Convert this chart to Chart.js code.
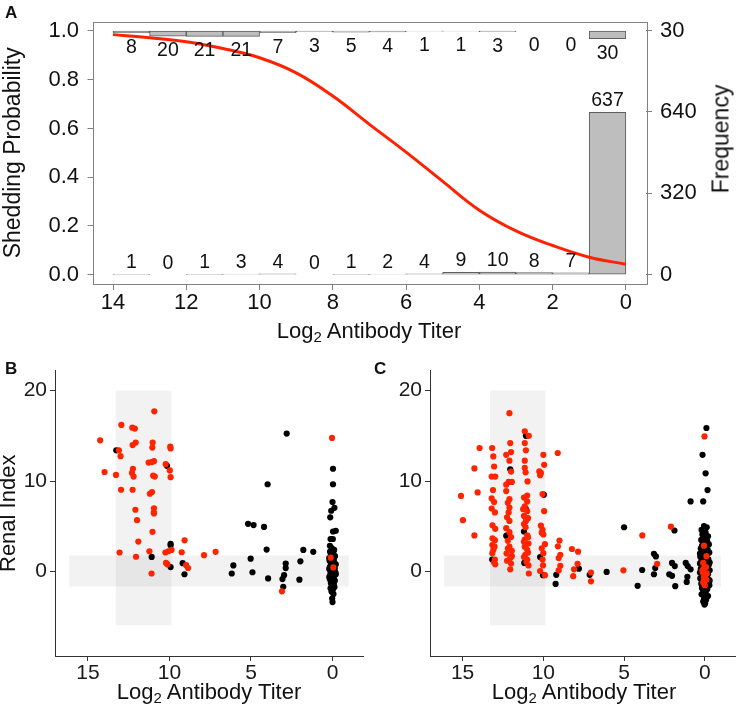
<!DOCTYPE html>
<html><head><meta charset="utf-8">
<script src="https://cdn.jsdelivr.net/npm/chart.js@4.4.1/dist/chart.umd.min.js"></script>
<style>
html,body{margin:0;padding:0;background:#fff;}
body{width:739px;height:706px;position:relative;overflow:hidden;font-family:"Liberation Sans",Arial,sans-serif;color:#111;}
canvas{position:absolute;}
.lbl{position:absolute;font-weight:bold;font-size:17px;line-height:17px;}
.xt{position:absolute;font-size:22px;line-height:22px;white-space:nowrap;transform:translateX(-50%);}
.xt sub{font-size:15px;line-height:0;vertical-align:-4px;}
.yt{position:absolute;font-size:23px;line-height:23px;white-space:nowrap;transform:translate(-50%,-50%) rotate(-90deg);}
</style></head>
<body>
<canvas id="cA" width="739" height="345" style="left:0;top:0"></canvas>
<canvas id="cB" width="370" height="351" style="left:0;top:355px"></canvas>
<canvas id="cC" width="369" height="351" style="left:370px;top:355px"></canvas>
<div class="lbl" style="left:5px;top:4px">A</div>
<div class="lbl" style="left:5px;top:360px">B</div>
<div class="lbl" style="left:374px;top:360px">C</div>
<div class="xt" style="left:369px;top:320px">Log<sub>2</sub> Antibody Titer</div>
<div class="xt" style="left:209px;top:681px">Log<sub>2</sub> Antibody Titer</div>
<div class="xt" style="left:584px;top:681px">Log<sub>2</sub> Antibody Titer</div>
<div class="yt" style="left:721px;top:139px">Frequency</div>
<script>
// ---------- Panel A data ----------
const binCenters   = [13.5,12.5,11.5,10.5,9.5,8.5,7.5,6.5,5.5,4.5,3.5,2.5,1.5,0.5];
const bottomCounts = [1,0,1,3,4,0,1,2,4,9,10,8,7,637];   // non-shedding (bottom histogram)
const topCounts    = [8,20,21,21,7,3,5,4,1,1,3,0,0,30];   // shedding (top histogram)
const curveX = [14,13,12,11,10,9,8,7,6,5,4,3,2,1,0];
const curveP = [0.985,0.972,0.956,0.928,0.89,0.828,0.733,0.617,0.503,0.383,0.265,0.18,0.12,0.072,0.043];
const xTicksA = [14,12,10,8,6,4,2,0];
const probTicks = [0,0.2,0.4,0.6,0.8,1.0];
const topBase = 956.4;                 // frequency value at probability 1.0
const freqTickValues = [0,320,640,topBase];
const freqTickLabels = ['0','320','640','30'];

// ---------- Panels B / C data ----------
const xTicksBC = [15,10,5,0];
const yTicksBC = [0,10,20];
const titerBandX = [13.3,9.87];   const titerBandY = [-5.93,20];
const renalBandX = [16.15,-1.0];  const renalBandY = [-1.64,1.79];

const bRed = [[10.93,17.7],[12.95,16.2],[12.28,15.9],[12.12,15.8],[14.25,14.5],[12.26,13.97],[12.07,14.25],[11.03,14.25],[11.05,13.7],[9.95,13.8],[9.93,13.6],[13.1,13.4],[13.0,12.75],[11.28,12.04],[10.95,12.2],[11.09,12.1],[10.23,11.86],[9.98,11.18],[13.98,11.0],[13.28,10.68],[12.24,11.36],[12.3,10.9],[12.2,10.5],[11.0,10.6],[10.9,10.5],[9.93,10.43],[12.97,9.04],[12.26,9.04],[11.2,8.6],[11.07,8.79],[12.09,6.83],[10.95,7.0],[10.96,6.54],[10.95,6.43],[11.99,5.68],[11.04,4.39],[11.91,3.32],[9.07,3.46],[13.06,2.11],[12.05,1.64],[11.23,2.25],[10.25,2.11],[10.07,2.25],[9.87,2.39],[9.25,2.14],[7.88,1.82],[7.17,2.18],[10.21,0.96],[10.12,0.79],[8.98,0.71],[8.86,0.4],[11.1,-0.21],[3.1,-2.18],[0.03,14.76],[0.11,1.54],[-0.05,0.46]];
const bBlack = [[13.26,13.4],[10.15,11.68],[9.93,3.07],[9.93,2.9],[11.09,1.62],[9.93,0.5],[9.19,0.93],[9.08,-0.29],
 [2.81,15.25],[3.98,9.65],[5.18,5.28],[4.84,5.14],[4.2,4.93],[4.04,2.43],[1.79,2.39],[1.18,2.18],[5.02,1.43],[6.08,0.68],[6.18,-0.21],[4.91,-0.07],[3.95,-0.75],[2.87,0.89],[2.87,0.39],[2.97,-0.39],[3.07,-0.82],[3.02,-1.68],[1.97,1.14],[2.03,-0.89],
 [-0.03,11.36],[-0.03,9.65],[0.0,7.68],[0.08,6.72],[-0.12,7.04],[0.14,6.0],[-0.03,4.43],[-0.2,4.5],[0.12,3.6],[-0.02,3.6],[0.16,2.85],
 [0.05,2.6],[-0.1,2.4],[0.15,2.2],[-0.05,2.0],[0.1,1.85],[-0.15,1.7],[0.02,1.5],[-0.08,1.3],[0.18,1.2],[0.06,1.0],[-0.12,0.9],[0.1,0.75],[-0.02,0.6],[0.16,0.5],[-0.14,0.35],[0.04,0.2],[-0.06,0.1],[0.12,0.0],[-0.18,-0.1],[0.0,-0.2],[0.14,-0.35],[-0.1,-0.45],[0.08,-0.6],[-0.04,-0.75],[0.16,-0.85],[-0.14,-1.0],[0.02,-1.1],[0.1,-1.25],[-0.08,-1.4],[0.05,-1.55],[-0.12,-1.7],[0.12,-1.85],[-0.02,-2.0],[0.06,-2.2],[-0.06,-2.47],[0.02,-2.97],[0.0,-3.36],[0.2,0.3],[-0.2,0.8],[0.2,-0.6],[-0.2,-0.3],[0.2,1.5]];

const cRed = [[15.1,8.36],[14.98,5.68],[14.27,4.0],[14.27,11.4],[14.07,8.75],[13.95,13.65],
 [13.17,13.65],[13.1,12.72],[13.05,11.61],[13.2,10.5],[12.98,10.5],[13.12,9.0],[13.2,8.08],[13.05,7.68],[13.2,6.97],[13.0,6.54],[13.15,5.11],[12.98,4.72],[13.15,3.68],[13.0,3.47],[13.16,2.93],[13.02,2.75],[13.1,2.4],[13.16,2.04],[13.0,1.33],[12.98,0.8],[13.05,1.0],
 [12.1,17.5],[12.05,14.2],[12.3,12.9],[12.0,13.2],[12.1,12.25],[12.0,11.05],[12.15,9.9],[11.95,9.9],[12.3,9.6],[12.3,8.9],[12.1,8.0],[12.2,7.6],[12.1,7.07],[12.15,6.54],[12.25,6.0],[12.1,5.6],[12.3,4.8],[12.1,4.35],[12.0,3.82],[12.2,3.4],[12.1,2.75],[11.95,2.3],[12.28,2.0],[12.05,1.5],[12.0,0.89],[12.05,0.25],[12.25,1.2],[11.95,1.7],[12.2,2.55],
 [11.15,15.5],[10.9,15.0],[11.15,14.2],[11.08,13.4],[11.15,12.25],[11.15,11.46],[11.1,10.96],[10.98,9.96],[11.2,8.18],[11.0,7.75],[11.15,7.2],[11.0,6.68],[11.2,6.15],[11.08,5.6],[11.2,5.25],[11.0,4.0],[11.15,3.54],[10.92,3.1],[11.15,2.75],[11.0,2.4],[11.12,1.86],[11.0,1.33],[10.92,0.68],[10.9,-0.21],[11.1,4.9],[10.95,3.8],[11.2,3.3],[10.95,2.1],[11.2,1.6],[11.05,1.05],[11.25,6.9],[11.0,8.4],[10.95,5.9],
 [10.0,12.9],[9.95,11.79],[10.25,11.07],[10.2,10.64],[10.05,8.57],[9.95,6.68],[10.15,5.07],[10.05,4.61],[10.0,4.11],[9.9,3.03],[10.1,2.57],[10.0,2.04],[10.05,1.33],[10.02,0.68],[10.2,0.07],[9.9,-0.39],[10.15,10.9],[10.1,4.3],
 [9.11,13.1],[9.0,3.43],[9.1,2.79],[8.95,1.86],[9.05,1.5],[8.95,0.64],[9.05,0.14],[8.23,2.5],[7.85,2.2],[8.1,0.25],[8.15,-0.5],[7.88,0.87],[7.05,-0.1],[7.05,-1.07],[5.04,0.14],[3.87,4.0],[2.95,0.86],[2.1,4.96],
 [0.02,14.93],[0.05,2.86],[-0.1,1.7],[0.1,0.96],[0.15,0.1],[-0.05,-0.3],[0.05,-0.6],[-0.1,-0.9],[0.1,-1.2],[0.0,-1.5],[0.12,-0.1],[-0.08,0.5],[0.05,-0.75],[-0.12,-0.2],[0.08,0.3]];
const cBlack = [[12.05,11.3],[11.08,6.9],[11.2,4.43],[12.24,4.0],[13.17,1.33],[10.2,1.61],[9.97,8.5],[10.02,-0.39],[9.2,-0.36],[9.24,-1.36],[11.18,0.96],[11.08,15.0],[12.3,3.96],
 [7.8,0.32],[7.13,-0.36],[6.08,-0.04],[5.0,4.9],[4.16,-1.57],[3.88,0.18],[3.15,1.96],[3.03,1.68],[3.07,0.39],[3.15,-0.29],[1.88,4.54],[2.03,0.96],[1.86,0.61],[2.2,-0.29],[2.03,-0.47],[1.83,-1.61],[1.18,0.96],[1.06,0.61],[0.88,0.25],[1.08,-0.57],[1.12,-1.14],[0.88,7.75],
 [0.1,7.75],[-0.17,9.0],[-0.05,10.86],[0.14,12.9],[-0.1,15.86],
 [0.05,5.04],[-0.12,4.9],[0.2,4.6],[-0.05,4.3],[0.15,4.1],[-0.2,3.9],[0.02,3.7],[0.22,3.5],[-0.15,3.35],[0.08,3.2],[-0.25,3.0],[0.18,2.85],[-0.05,2.7],[0.25,2.55],[-0.18,2.4],[0.05,2.25],[-0.28,2.1],[0.15,1.95],[-0.1,1.8],[0.28,1.65],[0.0,1.5],[-0.22,1.35],[0.2,1.2],[-0.08,1.05],[0.3,0.9],[-0.25,0.75],[0.1,0.6],[-0.15,0.45],[0.25,0.3],[-0.3,0.15],[0.05,0.0],[0.2,-0.15],[-0.2,-0.3],[0.12,-0.45],[-0.05,-0.6],[0.28,-0.75],[-0.25,-0.9],[0.08,-1.05],[-0.12,-1.2],[0.22,-1.35],[-0.28,-1.5],[0.0,-1.65],[0.18,-1.8],[-0.15,-1.95],[0.1,-2.1],[-0.05,-2.3],[0.2,-2.5],[-0.2,-2.7],[0.05,-2.9],[-0.08,-3.1],[0.1,-3.3],[-0.02,-3.5],[0.02,-3.64],[0.3,-0.1],[-0.3,1.0],[0.3,2.0],[-0.3,-1.0]];

// ---------- styling ----------
const FONT = '"Liberation Sans", Arial, sans-serif';
const RED = '#ff2400';
Chart.defaults.font.family = FONT;
Chart.defaults.color = '#111';

const boxPlugin = {
  id: 'box',
  afterDraw(chart) {
    const {ctx, chartArea: a} = chart;
    ctx.save();
    ctx.strokeStyle = '#808080';
    ctx.lineWidth = 1;
    ctx.strokeRect(Math.round(a.left) + 0.5, Math.round(a.top) + 0.5, Math.round(a.right - a.left), Math.round(a.bottom - a.top));
    ctx.restore();
  }
};

const countLabels = {
  id: 'countLabels',
  afterDatasetsDraw(chart) {
    const {ctx, scales: {x, y2}} = chart;
    ctx.save();
    ctx.font = '19.5px ' + FONT;
    ctx.fillStyle = '#111';
    ctx.textAlign = 'center';
    ctx.textBaseline = 'alphabetic';
    binCenters.forEach((c, i) => {
      const px = x.getPixelForValue(c);
      ctx.fillText(String(bottomCounts[i]), px, y2.getPixelForValue(bottomCounts[i]) - 6);
      ctx.fillText(String(topCounts[i]), px, y2.getPixelForValue(topBase - topCounts[i]) + 20);
    });
    ctx.restore();
  }
};

const bandPlugin = {
  id: 'bands',
  beforeDatasetsDraw(chart) {
    const {ctx, scales: {x, y}} = chart;
    ctx.save();
    ctx.fillStyle = 'rgba(0,0,0,0.05)';
    const rect = (xs, ys) => {
      const x0 = x.getPixelForValue(xs[0]), x1 = x.getPixelForValue(xs[1]);
      const y0 = y.getPixelForValue(ys[0]), y1 = y.getPixelForValue(ys[1]);
      ctx.fillRect(Math.min(x0, x1), Math.min(y0, y1), Math.abs(x1 - x0), Math.abs(y1 - y0));
    };
    rect(titerBandX, titerBandY);
    rect(renalBandX, renalBandY);
    ctx.restore();
  }
};

// ---------- Panel A ----------
new Chart(document.getElementById('cA'), {
  type: 'bar',
  data: {
    datasets: [
      { type: 'line', data: curveX.map((v, i) => ({x: v, y: curveP[i]})), yAxisID: 'y',
        borderColor: '#ff2200', borderWidth: 3, pointRadius: 0, tension: 0.4, cubicInterpolationMode: 'default', fill: false, order: 0 },
      { data: binCenters.map((c, i) => ({x: c, y: [0, bottomCounts[i]]})).filter((d, i) => bottomCounts[i] > 0), yAxisID: 'y2',
        backgroundColor: '#bebebe', borderColor: '#5e5e5e', borderWidth: 1, borderSkipped: false, grouped: false,
        barPercentage: 1, categoryPercentage: 1, order: 1 },
      { data: binCenters.map((c, i) => ({x: c, y: [topBase - topCounts[i], topBase]})).filter((d, i) => topCounts[i] > 0), yAxisID: 'y2',
        backgroundColor: '#bebebe', borderColor: '#5e5e5e', borderWidth: 1, borderSkipped: false, grouped: false,
        barPercentage: 1, categoryPercentage: 1, order: 1 }
    ]
  },
  options: {
    responsive: false, animation: false, devicePixelRatio: 1,
    layout: {padding: {top: 1, left: 0, right: 0, bottom: 0}},
    plugins: {legend: {display: false}, tooltip: {enabled: false}},
    scales: {
      x: {
        type: 'linear', reverse: true, min: -0.55, max: 14.56, offset: false,
        grid: {display: true, drawOnChartArea: false, tickLength: 6, color: '#808080', offset: false},
        border: {display: false},
        ticks: {font: {size: 22}, color: '#111', padding: 0, maxRotation: 0, autoSkip: false},
        afterBuildTicks: s => { s.ticks = xTicksA.map(v => ({value: v})); },
        afterFit: s => { s.height = 61; }
      },
      y: {
        position: 'left', min: -0.038, max: 1.038,
        grid: {display: true, drawOnChartArea: false, tickLength: 5, color: '#808080'},
        border: {display: false},
        ticks: {font: {size: 22}, color: '#111', padding: 8.5, callback: v => v.toFixed(1)},
        afterBuildTicks: s => { s.ticks = probTicks.map(v => ({value: v})); },
        afterFit: s => { s.width = 92.5; },
        title: {display: true, text: 'Shedding Probability', font: {size: 23, lineHeight: 1.2}, color: '#111', padding: 0}
      },
      y2: {
        position: 'right', min: -0.038 * topBase, max: 1.038 * topBase,
        grid: {display: true, drawOnChartArea: false, tickLength: 6, color: '#808080'},
        border: {display: false},
        ticks: {font: {size: 22}, color: '#111', padding: 8, callback: (v, i) => freqTickLabels[i]},
        afterBuildTicks: s => { s.ticks = freqTickValues.map(v => ({value: v})); },
        afterFit: s => { s.width = 93; }
      }
    }
  },
  plugins: [boxPlugin, countLabels]
});

// ---------- Panels B, C ----------
function scatterPanel(id, red, black, yAxisWidth, padRight, withTitle) {
  return new Chart(document.getElementById(id), {
    type: 'scatter',
    data: {
      datasets: [
        {data: red.map(p => ({x: p[0], y: p[1]})), backgroundColor: RED, borderWidth: 0, pointRadius: 3.1},
        {data: black.map(p => ({x: p[0], y: p[1]})), backgroundColor: '#000', borderWidth: 0, pointRadius: 3.1}
      ]
    },
    options: {
      responsive: false, animation: false, devicePixelRatio: 1,
      layout: {padding: {top: 7, right: padRight, left: 0, bottom: 0}},
      plugins: {legend: {display: false}, tooltip: {enabled: false}},
      scales: {
        x: {
          type: 'linear', reverse: true, min: -1.87, max: 17.02,
          grid: {display: true, drawOnChartArea: false, tickLength: 5, color: '#333'},
          border: {display: true, color: '#333', width: 1},
          ticks: {font: {size: 21}, color: '#1a1a1a', padding: 0, maxRotation: 0, autoSkip: false},
          afterBuildTicks: s => { s.ticks = xTicksBC.map(v => ({value: v})); },
          afterFit: s => { s.height = 50; }
        },
        y: {
          type: 'linear', min: -9.32, max: 22.2,
          grid: {display: true, drawOnChartArea: false, tickLength: 5, color: '#333'},
          border: {display: true, color: '#333', width: 1},
          ticks: {font: {size: 21}, color: '#1a1a1a', padding: 3},
          afterBuildTicks: s => { s.ticks = yTicksBC.map(v => ({value: v})); },
          afterFit: s => { s.width = yAxisWidth; },
          title: {display: withTitle, text: 'Renal Index', font: {size: 22, lineHeight: 0.85}, color: '#111', padding: 0}
        }
      }
    },
    plugins: [bandPlugin]
  });
}
scatterPanel('cB', bRed, bBlack, 55, 7, true);
scatterPanel('cC', cRed, cBlack, 60, 1, false);
</script>
</body></html>
